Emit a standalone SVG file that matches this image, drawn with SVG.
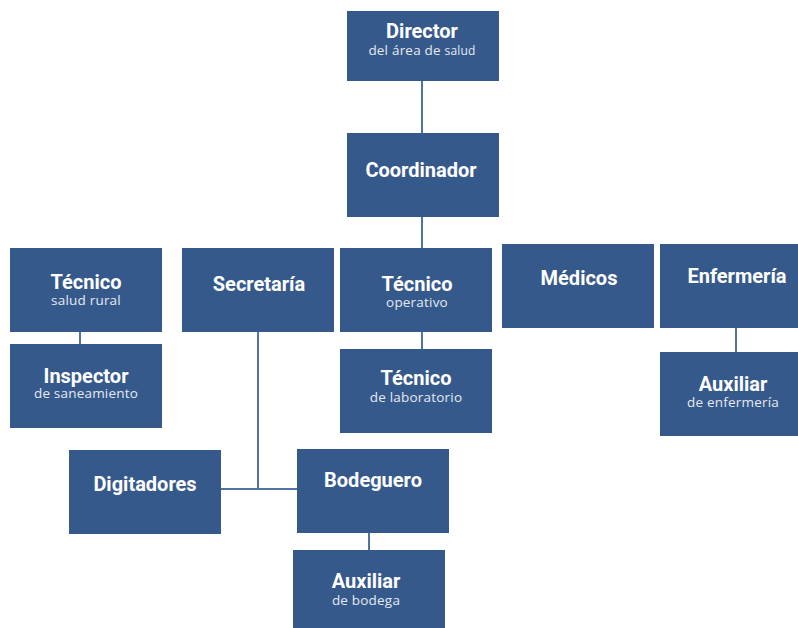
<svg xmlns="http://www.w3.org/2000/svg" width="798" height="628" viewBox="0 0 798 628">
<style>
.box{fill:#36598c}
.t{font-family:Roboto,"Liberation Sans",sans-serif;font-weight:700;font-size:20px;fill:#ffffff;text-anchor:middle}
.s{font-family:"Open Sans","Liberation Sans",sans-serif;font-size:13.5px;letter-spacing:0.2px;fill:#e4e9f1;text-anchor:middle}
.c{stroke:#5173a3;stroke-width:2;fill:none}
</style>
<rect width="798" height="628" fill="#ffffff"/>
<g id="connectors">
<line class="c" x1="422" y1="81" x2="422" y2="133"/>
<line class="c" x1="422" y1="217" x2="422" y2="248"/>
<line class="c" x1="422" y1="332" x2="422" y2="349"/>
<line class="c" x1="80" y1="332" x2="80" y2="344"/>
<line class="c" x1="736" y1="328" x2="736" y2="352"/>
<line class="c" x1="258" y1="332" x2="258" y2="489"/>
<line class="c" x1="221" y1="489" x2="297" y2="489"/>
<line class="c" x1="369" y1="533" x2="369" y2="550"/>
</g>
<g id="director"><rect class="box" x="347" y="11" width="152" height="70"/><text class="t" x="422" y="38">Director</text><text class="s" x="422" y="55">del área de <tspan font-size="12">salud</tspan></text></g>
<g id="coordinador"><rect class="box" x="347" y="133" width="152" height="84"/><text class="t" x="421" y="177">Coordinador</text></g>
<g id="tecnico-salud-rural"><rect class="box" x="10" y="248" width="152" height="84"/><text class="t" x="86" y="289">Técnico</text><text class="s" x="86" y="305">salud rural</text></g>
<g id="inspector"><rect class="box" x="10" y="344" width="152" height="84"/><text class="t" x="86" y="383">Inspector</text><text class="s" x="86" y="398">de saneamiento</text></g>
<g id="secretaria"><rect class="box" x="182" y="248" width="152" height="84"/><text class="t" x="259" y="291">Secretaría</text></g>
<g id="tecnico-operativo"><rect class="box" x="340" y="248" width="152" height="84"/><text class="t" x="417" y="291">Técnico</text><text class="s" x="417" y="307">operativo</text></g>
<g id="tecnico-laboratorio"><rect class="box" x="340" y="349" width="152" height="84"/><text class="t" x="416" y="385">Técnico</text><text class="s" x="416" y="402">de laboratorio</text></g>
<g id="medicos"><rect class="box" x="502" y="244" width="152" height="84"/><text class="t" x="579" y="285">Médicos</text></g>
<g id="enfermeria"><rect class="box" x="660" y="244" width="152" height="84"/><text class="t" x="737" y="283">Enfermería</text></g>
<g id="auxiliar-enfermeria"><rect class="box" x="660" y="352" width="152" height="84"/><text class="t" x="733" y="391">Auxiliar</text><text class="s" x="733" y="407">de enfermería</text></g>
<g id="digitadores"><rect class="box" x="69" y="450" width="152" height="84"/><text class="t" x="145" y="491">Digitadores</text></g>
<g id="bodeguero"><rect class="box" x="297" y="449" width="152" height="84"/><text class="t" x="373" y="487">Bodeguero</text></g>
<g id="auxiliar-bodega"><rect class="box" x="293" y="550" width="152" height="78"/><text class="t" x="366" y="588">Auxiliar</text><text class="s" x="366" y="605">de bodega</text></g>
</svg>
